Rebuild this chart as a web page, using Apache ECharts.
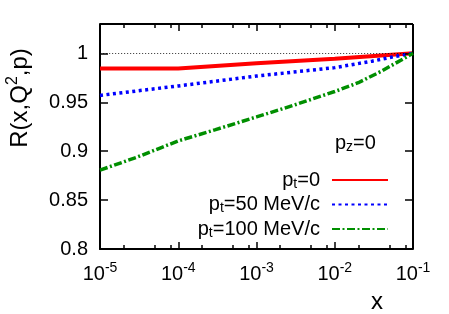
<!DOCTYPE html>
<html><head><meta charset="utf-8">
<script src="https://cdn.jsdelivr.net/npm/echarts@6/dist/echarts.min.js"></script>
<style>html,body{margin:0;padding:0;background:#fff}#c{width:449px;height:314px}</style>
</head><body><div id="c"></div>
<script>
// ---- data ----
const xTicks = [1e-5, 1e-4, 1e-3, 1e-2, 1e-1];
const minorMantissas = [2, 5, 8];
const yTicks = [0.8, 0.85, 0.9, 0.95, 1];

const redX = [1e-5, 1e-4, 1.05e-4, 1e-3, 1e-2, 1e-1];
const redY = [0.9844, 0.9846, 0.9857, 0.9898, 0.9946, 1.0];

const blueX = [1e-5, 1e-4, 1e-3, 1e-2, 3e-2, 6e-2, 1e-1];
const blueY = [0.957, 0.9667, 0.9768, 0.9854, 0.992, 0.997, 1.0];

const greenX = [1e-5, 3e-5, 1e-4, 3e-4, 1e-3, 3e-3, 1e-2, 2e-2, 4e-2, 7e-2, 1e-1];
const greenY = [0.8806, 0.894, 0.9105, 0.922, 0.935, 0.947, 0.961, 0.970, 0.982, 0.993, 1.0];

const seriesNames = ['p{sub|t}=0', 'p{sub|t}=50 MeV/c', 'p{sub|t}=100 MeV/c'];
const yName = 'R(x,Q{sup|2},p)';
const xName = 'x';
const panelLabel = 'p{sub|z}=0';

// ---- build ----
const FONT = '"Liberation Sans", Arial, Helvetica, sans-serif';
const X_MIN = 1e-5, X_MAX = 1e-1, Y_MIN = 0.8, Y_MAX = 1.03;
const zip = (xs, ys) => xs.map((x, i) => [x, ys[i]]);
const minorTicks = xTicks.slice(0, -1).flatMap(d => minorMantissas.map(m => m * d));

const richBase = {
  sub: {fontSize: 14, lineHeight: 14, verticalAlign: 'bottom', fontFamily: FONT, color: '#000'},
  sup: {fontSize: 14, lineHeight: 14, verticalAlign: 'top', fontFamily: FONT, color: '#000'}
};

const chart = echarts.init(document.getElementById('c'), null, {renderer: 'canvas'});

const baseGraphic = [
  {
    type: 'text', x: 20, y: 98, rotation: Math.PI / 2,
    style: {
      text: yName, fill: '#000', font: '24px ' + FONT, align: 'center', verticalAlign: 'middle',
      rich: {sup: {fontSize: 16, lineHeight: 16, verticalAlign: 'top', fontFamily: FONT, fill: '#000'}},
      lineHeight: 30
    }
  },
  {
    type: 'text', x: 377, y: 302,
    style: {text: xName, fill: '#000', font: '24px ' + FONT, align: 'center', verticalAlign: 'middle'}
  },
  {
    type: 'text', x: 335, y: 143,
    style: {
      text: panelLabel, fill: '#000', font: '20px ' + FONT, align: 'left', verticalAlign: 'middle',
      lineHeight: 22,
      rich: {sub: {fontSize: 14, lineHeight: 14, verticalAlign: 'bottom', fontFamily: FONT, fill: '#000'}}
    }
  }
];

const markBase = {
  silent: true, symbol: ['none', 'none'], label: {show: false}, animation: false,
  emphasis: {disabled: true}
};

const option = {
  animation: false,
  backgroundColor: '#fff',
  textStyle: {fontFamily: FONT},
  grid: {left: 100, right: 36, top: 24, bottom: 65, containLabel: false},
  xAxis: {
    type: 'log', logBase: 10, min: X_MIN, max: X_MAX, position: 'bottom',
    axisLine: {show: true, onZero: false, lineStyle: {color: '#000', width: 2}},
    axisTick: {show: false}, splitLine: {show: false}, minorSplitLine: {show: false},
    axisLabel: {
      show: true, margin: 12, color: '#000', fontSize: 20, fontFamily: FONT,
      formatter: v => '{b|10}{sup|' + Math.round(Math.log10(v)) + '}',
      rich: Object.assign({b: {fontSize: 20, lineHeight: 27, fontFamily: FONT, color: '#000'}}, richBase)
    }
  },
  yAxis: {
    type: 'value', min: Y_MIN, max: Y_MAX, interval: 0.05, position: 'left',
    axisLine: {show: true, onZero: false, lineStyle: {color: '#000', width: 2}},
    axisTick: {show: false},
    axisLabel: {show: true, showMaxLabel: false, margin: 12, color: '#000', fontSize: 20, fontFamily: FONT},
    splitLine: {show: false}
  },
  legend: {
    orient: 'vertical', right: 60, top: 169, align: 'right', selectedMode: false,
    itemWidth: 56, itemHeight: 14, itemGap: 2.5, padding: 0,
    data: seriesNames,
    itemStyle: {opacity: 0},
    formatter: n => n,
    textStyle: {fontSize: 20, color: '#000', fontFamily: FONT, lineHeight: 22, padding: [0, 7, 0, 0],
      rich: Object.assign({}, richBase)}
  },
  graphic: baseGraphic,
  series: [
    {
      name: seriesNames[0], type: 'line', symbol: 'none', z: 3,
      data: zip(redX, redY), lineStyle: {color: '#ff0000', width: 4}, itemStyle: {color: '#ff0000'},
      markLine: Object.assign({}, markBase, {
        lineStyle: {color: '#000', width: 0.7, type: [1.2, 1.8]},
        data: [{yAxis: 1}]
      })
    },
    {
      name: seriesNames[1], type: 'line', symbol: 'none', z: 4,
      data: zip(blueX, blueY), lineStyle: {color: '#0000ff', width: 3.5, type: [3, 3.5]}, itemStyle: {color: '#0000ff'}
    },
    {
      name: seriesNames[2], type: 'line', symbol: 'none', z: 5, clip: false,
      data: zip(greenX, greenY), lineStyle: {color: '#008f00', width: 3.5, type: [8, 2.5, 2, 2.5]}, itemStyle: {color: '#008f00'}
    }
  ]
};
chart.setOption(option);

// frame (top/right) and inward ticks, drawn as marker segments through the chart's own axis scales
try {
  const toPx = (x, y) => chart.convertToPixel({gridIndex: 0}, [x, y]);
  const [gl, gb] = toPx(X_MIN, Y_MIN);
  const [gr, gt] = toPx(X_MAX, Y_MAX);
  const pxPerY = (gb - gt) / (Y_MAX - Y_MIN);
  const pxPerDecade = (gr - gl) / Math.log10(X_MAX / X_MIN);
  const dy = len => len / pxPerY;
  const fx = len => Math.pow(10, len / pxPerDecade);
  const segs = [];
  const seg = (a, b, w) => segs.push([{coord: a, lineStyle: {color: '#000', width: w || 1.5, type: 'solid'}}, {coord: b}]);
  // frame
  seg([X_MIN, Y_MAX], [X_MAX, Y_MAX], 2);
  seg([X_MAX, Y_MAX], [X_MAX, Y_MIN], 2);
  // x ticks (bottom and top)
  xTicks.forEach(v => { seg([v, Y_MIN], [v, Y_MIN + dy(7)]); seg([v, Y_MAX], [v, Y_MAX - dy(7)]); });
  minorTicks.forEach(v => { seg([v, Y_MIN], [v, Y_MIN + dy(4)]); seg([v, Y_MAX], [v, Y_MAX - dy(4)]); });
  // y ticks (left and right)
  yTicks.forEach(v => { seg([X_MIN, v], [X_MIN * fx(8), v]); seg([X_MAX, v], [X_MAX / fx(8), v]); });
  chart.setOption({series: [{}, {}, {
    markLine: Object.assign({}, markBase, {lineStyle: {color: '#000', width: 1.5, type: 'solid'}, data: segs})
  }]});
} catch (e) { /* keep chart without extra frame */ }
</script>
</body></html>
